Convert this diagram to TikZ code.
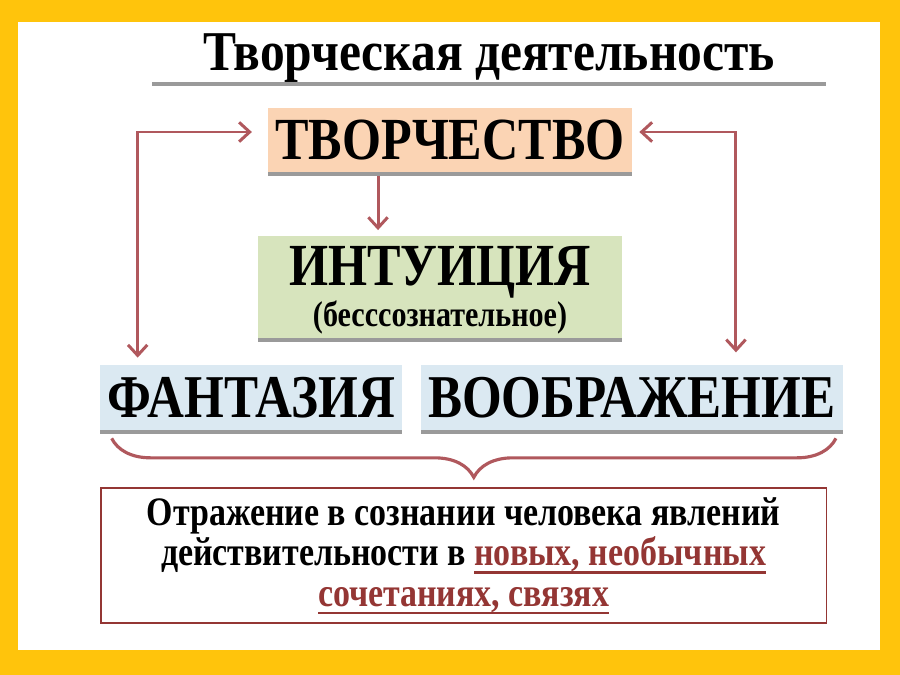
\documentclass[tikz,border=0pt]{standalone}
\usepackage{fontspec}
\setmainfont{Liberation Serif}[FakeStretch=0.84]
\newfontfamily\titlefont{Liberation Serif}[FakeStretch=0.88]
\usetikzlibrary{shapes,arrows,arrows.meta,positioning,calc,shadows,decorations.pathreplacing}

\definecolor{frameyellow}{HTML}{FFC40C}
\definecolor{linkred}{HTML}{B0585D}
\definecolor{textred}{HTML}{943634}
\definecolor{peach}{HTML}{FBD4B4}
\definecolor{olive}{HTML}{D7E4BD}
\definecolor{skyblue}{HTML}{DBE9F2}
\definecolor{shadowgray}{HTML}{9A9A9A}

\newcommand{\redul}[1]{\textcolor{textred}{\setbox0\hbox{#1}\rlap{\rule[-4.5pt]{\wd0}{1.4pt}}\box0}}

\begin{document}
\begin{tikzpicture}[x=0.02cm, y=-0.02cm, node distance=0.6cm,
    >={Straight Barb[length=6pt,width=11pt]},
    cbox/.style={rectangle, inner sep=0pt, font=\bfseries, drop shadow={shadow xshift=0pt, shadow yshift=-2.5pt, fill=shadowgray, opacity=1}},
    link/.style={draw=linkred, line width=1.7pt}]

    \useasboundingbox (0,0) rectangle (900,675);
    \fill[frameyellow] (0,0) rectangle (900,675);
    \fill[white] (18,22) rectangle (880,650);

    \node[cbox, fill=white, minimum width=13.48cm, minimum height=1.2cm, text depth=-3pt, font=\titlefont\fontsize{32}{34}\selectfont\bfseries] (title) at (489,52) {Творческая деятельность};

    \node[cbox, fill=peach, minimum width=7.28cm, minimum height=1.28cm, font=\fontsize{34}{36}\selectfont\bfseries] (tvor) at (450,140) {ТВОРЧЕСТВО};
    \node[cbox, fill=olive, minimum width=7.28cm, minimum height=2.04cm, below=1.26cm of tvor, xshift=-0.2cm, align=center, text depth=-5pt, font=\fontsize{34}{23.5}\selectfont\bfseries] (intu) {ИНТУИЦИЯ\\\fontsize{20.4}{23.5}\selectfont(бесссознательное)};

    \node[cbox, fill=skyblue, minimum width=6.04cm, minimum height=1.3cm, font=\fontsize{34.6}{36}\selectfont\bfseries] (fant) at (251,397.5) {ФАНТАЗИЯ};
    \node[cbox, fill=skyblue, minimum width=8.44cm, minimum height=1.3cm, right=0.36cm of fant, font=\fontsize{34.6}{36}\selectfont\bfseries] (voob) {ВООБРАЖЕНИЕ};

    \node[rectangle, draw=textred, line width=1.1pt, fill=white, minimum width=14.52cm, minimum height=2.7cm, below=1.14cm of fant.south west, anchor=north west, align=center, font=\fontsize{23}{23}\selectfont\bfseries] (res) {Отражение в сознании человека явлений\\действительности в \redul{новых, необычных}\\\redul{сочетаниях, связях}};

    \draw[link, ->, shorten <=2pt, shorten >=3pt] ([xshift=-1.44cm]tvor.south) -- ([xshift=-1.44cm]tvor.south |- intu.north);
    \draw[link, <->, shorten <=9pt, shorten >=4pt] ([yshift=0.16cm]tvor.west) -| ([xshift=0.76cm]fant.north west);
    \draw[link, <->, shorten <=4pt, shorten >=7pt] ([yshift=0.16cm]tvor.east) -| ([xshift=-2.14cm]voob.north east);

    \draw[draw=linkred, line width=1.8pt, decorate, decoration={brace, mirror, amplitude=0.78cm}] ([xshift=0.24cm, yshift=-0.16cm]fant.south west) -- ([xshift=-0.14cm, yshift=-0.16cm]voob.south east);

\end{tikzpicture}
\end{document}
